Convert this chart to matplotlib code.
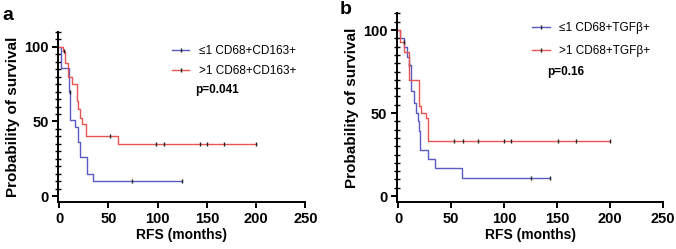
import numpy as np
import matplotlib
matplotlib.use("Agg")
import matplotlib.pyplot as plt
from matplotlib.lines import Line2D
from matplotlib.ticker import MultipleLocator

plt.rcParams['font.family'] = ['Liberation Sans', 'DejaVu Sans']

BLUE = '#5a5ac4'
RED = '#e8554e'

# panel a: CD68+CD163+
a_low_t = [0, 2, 10, 11, 16, 19, 21, 28, 34, 125]
a_low_s = [100, 86, 70, 51, 46, 36, 26, 15, 10, 10]
a_low_cens = [10.5, 74, 125]
a_high_t = [0, 4, 6, 9, 13, 18, 19, 21, 23, 27, 60, 200]
a_high_s = [100, 97, 89, 80, 75, 64, 58, 52, 48, 40, 35, 35]
a_high_cens = [5, 52, 98, 106, 143, 150, 167, 200]
a_labels = ['\u22641 CD68+CD163+', '>1 CD68+CD163+']
a_p = 'p=0.041'

# panel b: CD68+TGFb+
b_low_t = [0, 2, 6, 8, 10, 12, 15, 17, 19, 20, 21, 28, 35, 60, 143]
b_low_s = [100, 95, 90, 84, 79, 63, 56, 50, 45, 39, 28, 22, 17, 11, 11]
b_low_cens = [10.5, 125, 143]
b_high_t = [0, 1.5, 6, 10, 20, 22, 26, 28, 200]
b_high_s = [100, 93, 87, 70, 54, 50, 47, 33, 33]
b_high_cens = [5.5, 53, 61, 75, 100, 107, 151, 168, 200]
b_labels = ['\u22641 CD68+TGF\u03b2+', '>1 CD68+TGF\u03b2+']
b_p = 'p=0.16'

xticks = [0, 50, 100, 150, 200, 250]
yticks = [0, 50, 100]


def step_value(t, s, x):
    i = np.searchsorted(t, x, side='right') - 1
    return np.asarray(s)[i]


def km_panel(ax, curves, labels, ptext, ylo, leg_anchor, lspace, p_xy):
    for t, s, cens, col in curves:
        ax.plot(t, s, drawstyle='steps-post', color=col, lw=1.0)
        # censor ticks
        ax.plot(cens, [step_value(t, s, c) for c in cens], ls='none',
                marker='|', color='#222222', ms=3.5, mew=1.0)
    ax.set_xlim(-1, 250)
    ax.set_ylim(ylo, 110)
    ax.set_xticks(xticks)
    ax.set_yticks(yticks)
    ax.yaxis.set_minor_locator(MultipleLocator(5))
    for sp in ['top', 'right']:
        ax.spines[sp].set_visible(False)
    for sp in ['left', 'bottom']:
        ax.spines[sp].set_linewidth(1.4)
    ax.tick_params(axis='both', which='major', direction='out', length=4.5,
                   width=1.4, labelsize=10.5, pad=2.5)
    ax.tick_params(axis='y', which='minor', direction='inout', length=4,
                   width=1.0)
    for lab in ax.get_xticklabels() + ax.get_yticklabels():
        lab.set_fontweight('bold')
    ax.set_xlabel('RFS (months)', fontsize=10, fontweight='bold', labelpad=2)
    ax.set_ylabel('Probability of survival', fontsize=11, fontweight='bold',
                  labelpad=3)
    handles = [Line2D([0], [0], color=c[3], lw=1.0, marker='|',
                      mec='#222222', ms=3.5) for c in curves]
    ax.legend(handles, labels, loc='upper left', bbox_to_anchor=leg_anchor,
              frameon=False, fontsize=8.5, handlelength=1.5,
              handletextpad=0.8, labelspacing=lspace, borderaxespad=0)
    ax.text(p_xy[0], p_xy[1], ptext, transform=ax.transAxes, fontsize=8.5,
            fontweight='bold', va='center', ha='left')


fig = plt.figure(figsize=(6.76, 2.49), dpi=100)
ax1 = fig.add_axes([0.0862, 0.1888, 0.3654, 0.683])
ax2 = fig.add_axes([0.5873, 0.1895, 0.3935, 0.7566])

km_panel(ax1, [(a_low_t, a_low_s, a_low_cens, BLUE),
               (a_high_t, a_high_s, a_high_cens, RED)],
         a_labels, a_p, -4, (0.44, 0.95), 0.7, (0.555, 0.659))
km_panel(ax2, [(b_low_t, b_low_s, b_low_cens, BLUE),
               (b_high_t, b_high_s, b_high_cens, RED)],
         b_labels, b_p, -3.5, (0.491, 0.979), 0.95, (0.565, 0.69))

fig.text(0.004, 0.936, 'a', fontsize=14, fontweight='bold', va='center')
fig.text(0.503, 0.96, 'b', fontsize=14, fontweight='bold', va='center')

fig.savefig('out.png', dpi=100)
